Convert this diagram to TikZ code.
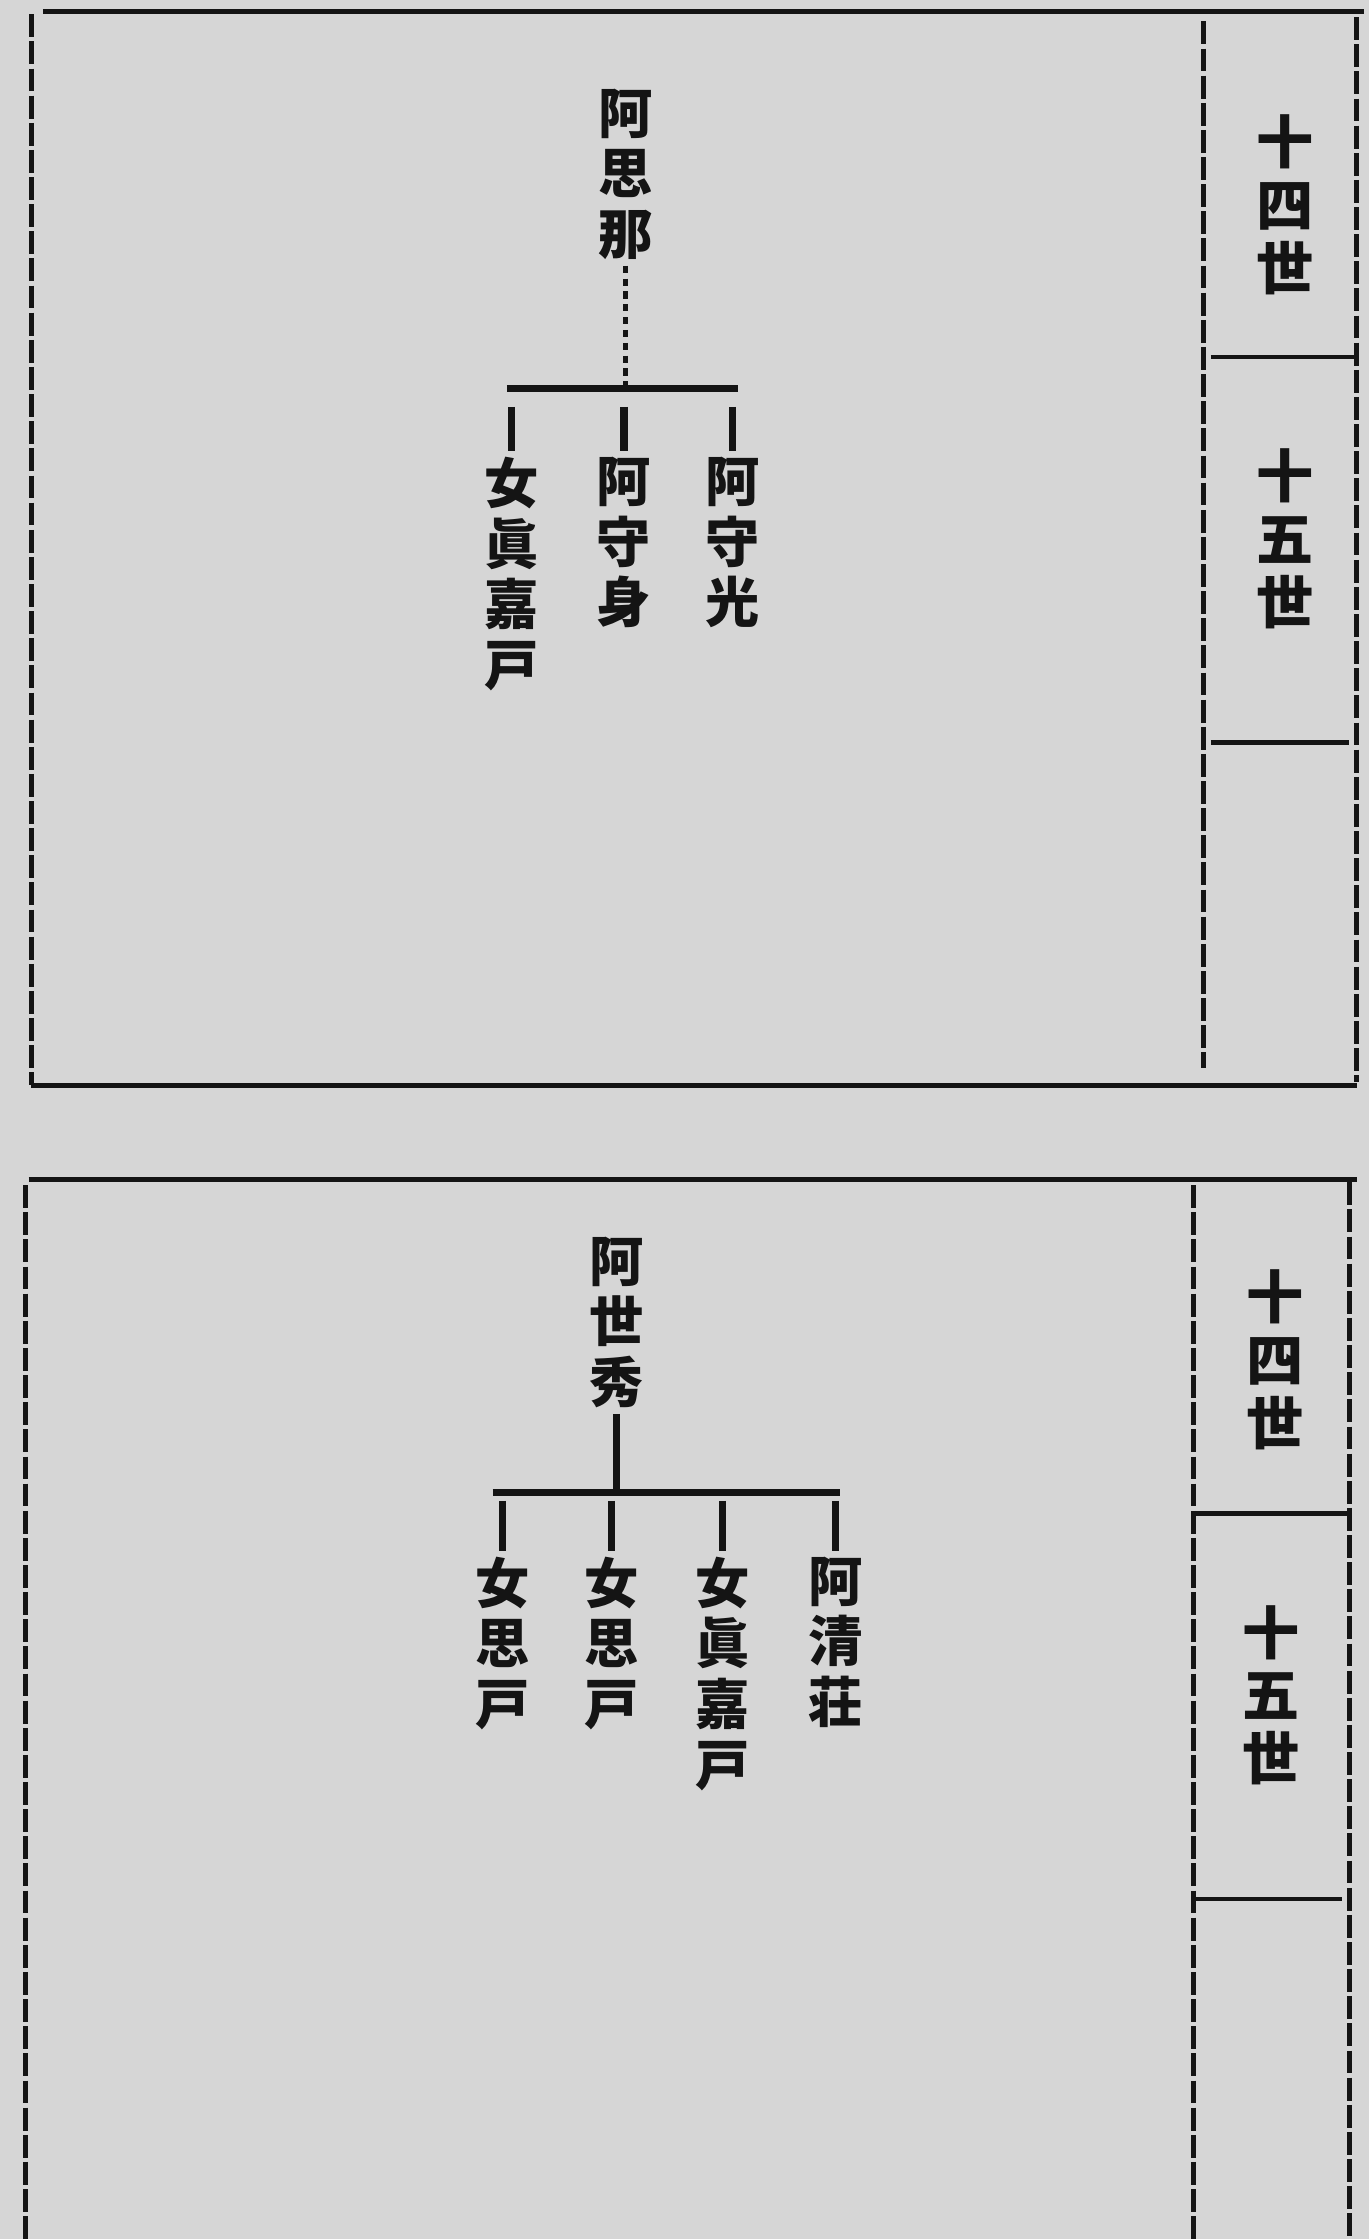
\documentclass[tikz,border=0pt]{standalone}
\usepackage{fontspec}
\newfontfamily\cjk{Noto Sans CJK JP}[BoldFont={* Black}]
\usepackage{tikz}

\definecolor{paper}{RGB}{214,214,214}
\definecolor{ink}{RGB}{20,20,20}

\tikzset{
  frame/.style={ink, line width=3.5pt},
  dashframe/.style={ink, line width=3.5pt, dash pattern=on 16pt off 3pt},
  cell/.style={ink, line width=3pt},
  bar/.style={ink, line width=5pt},
  person/.style={anchor=north, inner sep=0pt, align=center, text=ink,
    font=\cjk\bfseries\fontsize{38}{42.5}\selectfont},
  genlabel/.style={anchor=north, inner sep=0pt, align=center, text=ink,
    font=\cjk\bfseries\fontsize{40}{44}\selectfont}
}

\begin{document}
\begin{tikzpicture}[x=1pt, y=-1pt]
\fill [paper] (0,0) rectangle (959,1568);
\useasboundingbox (0,0) rectangle (959,1568);

% upper sheet
\draw [frame] (30,8) -- (955,8);
\draw [dashframe] (22,10) -- (22,760);
\draw [frame] (22,760) -- (950,760);
\draw [dashframe] (843,15) -- (843,748);
\draw [dashframe] (950,12) -- (950,758);
\draw [cell] (848,250) -- (950,250);
\draw [cell] (848,520) -- (945,520);
\node [genlabel] (gen14a) at (900,80) {十\\四\\世};
\node [genlabel] (gen15a) at (900,314) {十\\五\\世};

\node [person] (asina) at (438,62) {阿\\思\\那};
\node [person] (nyojin) at (358,320) {女\\眞\\嘉\\戸};
\node [person] (shushin) at (437,320) {阿\\守\\身};
\node [person] (shuko) at (513,320) {阿\\守\\光};
\coordinate (baraL) at (355,272);
\coordinate (baraR) at (517,272);
\draw [ink, line width=3pt, dash pattern=on 5pt off 4pt] (asina.south) ++(0,4) -- (asina.south |- baraL);
\draw [bar] (baraL) -- (baraR);
\foreach \kid in {nyojin, shushin, shuko}
  \draw [bar] (\kid.north |- baraL) ++(0,13) -- ([yshift=4pt]\kid.north);

% lower sheet
\draw [frame] (20,826) -- (950,826);
\draw [dashframe] (18,830) -- (18,1568);
\draw [dashframe] (836,830) -- (836,1568);
\draw [dashframe] (945,828) -- (945,1568);
\draw [cell] (836,1060) -- (945,1060);
\draw [cell] (836,1330) -- (940,1330);
\node [genlabel] (gen14b) at (893,889) {十\\四\\世};
\node [genlabel] (gen15b) at (890,1124) {十\\五\\世};

\node [person] (seishu) at (432,866) {阿\\世\\秀};
\node [person] (shiko) at (352,1090) {女\\思\\戸};
\node [person] (shikob) at (428,1090) {女\\思\\戸};
\node [person] (shinka) at (506,1090) {女\\眞\\嘉\\戸};
\node [person] (seiso) at (585,1090) {阿\\清\\荘};
\coordinate (barbL) at (345,1045);
\coordinate (barbR) at (588,1045);
\draw [bar] (seishu.south) ++(0,4) -- (seishu.south |- barbL);
\draw [bar] (barbL) -- (barbR);
\foreach \kid in {shiko, shikob, shinka, seiso}
  \draw [bar] (\kid.north |- barbL) ++(0,6) -- ([yshift=4pt]\kid.north);
\end{tikzpicture}
\end{document}
